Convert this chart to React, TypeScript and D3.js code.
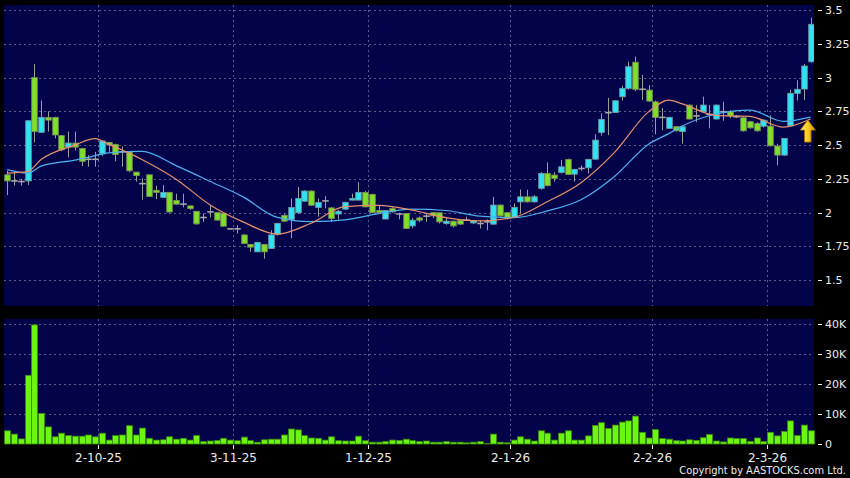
import { useEffect, useRef } from "react";
import * as d3 from "d3";

// ── Daily OHLC (120 sessions, Sep-2025 → Mar-2026) ─────────────────────────
const OPEN = [
  2.28, 2.235, 2.23, 2.235, 3.0, 2.595, 2.705, 2.705, 2.57, 2.485,
  2.515, 2.475, 2.395, 2.395, 2.435, 2.52, 2.505, 2.45, 2.45, 2.3,
  2.215, 2.28, 2.165, 2.113, 2.15, 2.09, 2.063, 2.05, 2.01, 1.964,
  2.006, 2.0, 1.995, 1.88, 1.88, 1.835, 1.765, 1.71, 1.765, 1.735,
  1.84, 1.98, 1.95, 2.0, 2.085, 2.16, 2.038, 2.087, 2.035, 1.99,
  2.026, 2.093, 2.093, 2.15, 2.135, 2.015, 1.953, 2.03, 1.99, 1.994,
  1.902, 1.961, 1.974, 2.0, 1.999, 1.92, 1.937, 1.944, 1.945, 1.924,
  1.92, 1.932, 1.915, 2.056, 2.0, 1.964, 2.08, 2.117, 2.08, 2.18,
  2.29, 2.278, 2.298, 2.394, 2.285, 2.327, 2.332, 2.396, 2.594, 2.74,
  2.742, 2.858, 2.92, 3.113, 2.913, 2.907, 2.82, 2.705, 2.624, 2.636,
  2.6, 2.796, 2.716, 2.747, 2.727, 2.693, 2.747, 2.747, 2.71, 2.702,
  2.673, 2.66, 2.64, 2.64, 2.493, 2.426, 2.643, 2.883, 2.915, 3.117,
];
const HIGH = [
  2.31, 2.3, 2.25, 2.685, 3.1, 2.83, 2.75, 2.71, 2.575, 2.6,
  2.6, 2.48, 2.425, 2.45, 2.535, 2.52, 2.51, 2.49, 2.455, 2.3,
  2.255, 2.28, 2.2, 2.205, 2.15, 2.14, 2.14, 2.05, 2.01, 1.994,
  2.056, 2.0, 1.995, 1.885, 1.907, 1.84, 1.765, 1.78, 1.765, 1.87,
  1.925, 1.99, 2.105, 2.19, 2.165, 2.165, 2.105, 2.122, 2.04, 2.02,
  2.08, 2.14, 2.225, 2.16, 2.14, 2.055, 2.02, 2.04, 2.0, 1.995,
  1.96, 1.97, 1.994, 2.0, 2.0, 1.96, 1.94, 1.95, 1.97, 1.945,
  1.946, 1.95, 2.117, 2.06, 2.0, 2.068, 2.172, 2.17, 2.13, 2.3,
  2.372, 2.3, 2.39, 2.4, 2.325, 2.35, 2.4, 2.58, 2.735, 2.85,
  2.83, 2.94, 3.117, 3.155, 3.02, 2.944, 2.83, 2.774, 2.71, 2.64,
  2.64, 2.8, 2.796, 2.858, 2.796, 2.8, 2.82, 2.76, 2.72, 2.71,
  2.68, 2.67, 2.69, 2.72, 2.51, 2.55, 2.91, 2.98, 3.1, 3.443,
];
const LOW = [
  2.13, 2.2, 2.2, 2.205, 2.52, 2.59, 2.6, 2.55, 2.455, 2.41,
  2.46, 2.345, 2.34, 2.34, 2.42, 2.45, 2.38, 2.34, 2.3, 2.23,
  2.095, 2.12, 2.1, 2.11, 2.0, 2.06, 2.04, 2.02, 1.91, 1.932,
  1.964, 1.94, 1.895, 1.875, 1.846, 1.77, 1.71, 1.71, 1.66, 1.735,
  1.83, 1.93, 1.81, 1.99, 2.08, 2.05, 1.97, 2.031, 1.93, 1.95,
  2.02, 2.09, 2.09, 2.04, 1.995, 1.995, 1.95, 2.0, 1.95, 1.88,
  1.885, 1.93, 1.932, 1.96, 1.92, 1.91, 1.89, 1.91, 1.94, 1.915,
  1.883, 1.87, 1.91, 1.97, 1.95, 1.96, 1.994, 2.075, 2.075, 2.17,
  2.195, 2.23, 2.29, 2.28, 2.23, 2.31, 2.29, 2.39, 2.57, 2.574,
  2.74, 2.83, 2.91, 2.9, 2.833, 2.82, 2.58, 2.61, 2.62, 2.6,
  2.51, 2.69, 2.67, 2.74, 2.624, 2.69, 2.68, 2.7, 2.7, 2.6,
  2.62, 2.6, 2.63, 2.49, 2.35, 2.42, 2.64, 2.83, 2.833, 3.11,
];
const CLOSE = [
  2.235, 2.235, 2.23, 2.68, 2.6, 2.705, 2.685, 2.575, 2.465, 2.515,
  2.485, 2.38, 2.395, 2.395, 2.53, 2.5, 2.43, 2.45, 2.31, 2.275,
  2.215, 2.12, 2.15, 2.15, 2.005, 2.063, 2.063, 2.03, 1.917, 1.964,
  2.006, 1.945, 1.9, 1.88, 1.88, 1.772, 1.745, 1.78, 1.71, 1.835,
  1.92, 1.937, 2.038, 2.105, 2.16, 2.055, 2.076, 2.087, 1.957, 2.01,
  2.076, 2.105, 2.15, 2.043, 2.0, 2.0, 2.015, 2.006, 1.99, 1.883,
  1.944, 1.944, 1.974, 1.976, 1.932, 1.937, 1.902, 1.915, 1.945, 1.94,
  1.92, 1.932, 2.056, 1.976, 1.961, 2.038, 2.117, 2.08, 2.117, 2.29,
  2.2, 2.253, 2.339, 2.283, 2.32, 2.327, 2.394, 2.537, 2.69, 2.74,
  2.828, 2.92, 3.08, 2.913, 2.913, 2.826, 2.705, 2.705, 2.705, 2.606,
  2.636, 2.693, 2.716, 2.796, 2.727, 2.796, 2.747, 2.715, 2.71, 2.606,
  2.628, 2.606, 2.685, 2.495, 2.426, 2.549, 2.883, 2.913, 3.085, 3.394,
];
// turnover, thousands
const VOLUME_K = [
  4.4, 3.3, 1.7, 22.9, 39.7, 10.2, 5.7, 2.4, 3.6, 2.8,
  2.6, 2.6, 3.0, 2.4, 3.6, 1.3, 2.8, 3.0, 6.1, 3.0,
  5.3, 1.9, 1.3, 1.4, 2.4, 1.6, 1.9, 1.3, 2.8, 0.8,
  1.0, 1.2, 1.9, 1.3, 1.1, 2.3, 1.1, 0.6, 1.4, 1.6,
  1.6, 3.0, 5.0, 4.7, 2.8, 2.0, 1.9, 1.3, 2.4, 1.1,
  1.0, 1.0, 2.6, 1.1, 0.6, 0.6, 0.8, 1.3, 1.2, 1.6,
  1.1, 0.8, 1.0, 0.6, 0.6, 0.8, 0.6, 0.6, 0.4, 0.6,
  0.8, 0.2, 3.3, 0.6, 0.4, 1.3, 2.4, 1.6, 1.0, 4.4,
  3.6, 1.3, 3.6, 4.4, 1.3, 1.3, 2.7, 6.2, 7.1, 5.2,
  6.3, 7.3, 7.7, 9.3, 3.9, 2.0, 4.8, 1.8, 1.6, 1.1,
  1.0, 1.4, 1.2, 2.1, 3.2, 1.0, 0.7, 2.0, 1.8, 1.8,
  0.9, 2.0, 0.8, 3.9, 2.7, 4.2, 7.7, 2.8, 6.3, 4.4,
];

const MA_IDX = [0, 3, 5, 10, 13, 15, 20, 25, 30, 35, 40, 45, 50, 55, 60, 65, 70, 75, 80, 85, 90, 95, 98, 100, 105, 110, 115, 119];
const MA_SHORT = [
  2.293, 2.304, 2.393, 2.5, 2.548, 2.507, 2.392, 2.248, 2.059, 1.93,
  1.841, 1.922, 2.044, 2.054, 2.019, 1.963, 1.939, 1.964, 2.081, 2.222,
  2.448, 2.746, 2.833, 2.805, 2.72, 2.713, 2.633, 2.693,
];
const MA_LONG = [
  2.319, 2.293, 2.344, 2.389, 2.422, 2.442, 2.453, 2.348, 2.233, 2.115,
  1.965, 1.934, 1.946, 1.993, 2.026, 2.016, 1.974, 1.963, 2.013, 2.096,
  2.27, 2.507, 2.585, 2.641, 2.73, 2.759, 2.676, 2.707,
];

const PRICE_TICKS = [1.5, 1.75, 2, 2.25, 2.5, 2.75, 3, 3.25, 3.5];
const VOL_TICKS = [0, 10, 20, 30, 40];
const DATE_TICKS = [13.5, 33.5, 53.5, 74.5, 95.5, 112.5];
const DATE_LABELS = ["2-10-25", "3-11-25", "1-12-25", "2-1-26", "2-2-26", "2-3-26"];

// buy-signal marker (session index, price of arrow tip)
const SIGNAL = { idx: 118.6, price: 2.685 };

const W = 850;
const H = 478;
const PLOT_L = 4;
const PLOT_R = 814;
const PRICE_T = 5;
const PRICE_B = 306;
const VOL_T = 319;
const VOL_B = 444;

const BG_PLOT = "#03034a";
const GRID = "#5c5c8c";
const UP = "#2ee4f2";
const DOWN = "#7fe02a";
const WICK = "#9c9c9c";
const TEXT = "#ececec";
const FONT = "'DejaVu Sans', Verdana, sans-serif";

export default function App() {
  const svgRef = useRef<SVGSVGElement>(null);

  useEffect(() => {
    if (!svgRef.current) return;
    const svg = d3.select(svgRef.current);
    svg.selectAll("*").remove();

    const n = CLOSE.length;
    const x = d3.scaleLinear().domain([0, n - 1]).range([7.3, 810.5]);
    const y = d3.scaleLinear().domain([1.5, 3.5]).range([280.2, 10]);
    const yv = d3.scaleLinear().domain([0, 40]).range([VOL_B, 324]);

    const defs = svg.append("defs");
    defs.append("clipPath").attr("id", "clip-price")
      .append("rect")
      .attr("x", PLOT_L).attr("y", PRICE_T)
      .attr("width", PLOT_R - PLOT_L).attr("height", PRICE_B - PRICE_T);
    const grad = defs.append("linearGradient").attr("id", "arrow-grad")
      .attr("x1", 0).attr("x2", 1).attr("y1", 0).attr("y2", 0);
    grad.append("stop").attr("offset", "0%").attr("stop-color", "#fff2a0");
    grad.append("stop").attr("offset", "45%").attr("stop-color", "#ffd020");
    grad.append("stop").attr("offset", "100%").attr("stop-color", "#d89400");

    // ── Backgrounds ──────────────────────────────────────────────────────
    svg.append("rect").attr("width", W).attr("height", H).attr("fill", "#000");
    svg.append("rect")
      .attr("x", PLOT_L).attr("y", PRICE_T)
      .attr("width", PLOT_R - PLOT_L).attr("height", PRICE_B - PRICE_T)
      .attr("fill", BG_PLOT);
    svg.append("rect")
      .attr("x", PLOT_L).attr("y", VOL_T)
      .attr("width", PLOT_R - PLOT_L).attr("height", VOL_B - VOL_T)
      .attr("fill", BG_PLOT);

    // ── Grid ─────────────────────────────────────────────────────────────
    const grid = svg.append("g")
      .attr("stroke", GRID).attr("stroke-width", 1)
      .attr("stroke-dasharray", "2,3").attr("shape-rendering", "crispEdges");
    PRICE_TICKS.forEach((p) => {
      grid.append("line")
        .attr("x1", PLOT_L).attr("x2", PLOT_R)
        .attr("y1", Math.round(y(p)) + 0.5).attr("y2", Math.round(y(p)) + 0.5);
    });
    VOL_TICKS.filter((v) => v > 0).forEach((v) => {
      grid.append("line")
        .attr("x1", PLOT_L).attr("x2", PLOT_R)
        .attr("y1", Math.round(yv(v)) + 0.5).attr("y2", Math.round(yv(v)) + 0.5);
    });
    DATE_TICKS.forEach((d) => {
      const gx = Math.round(x(d)) + 0.5;
      grid.append("line").attr("x1", gx).attr("x2", gx).attr("y1", PRICE_T).attr("y2", PRICE_B);
      grid.append("line").attr("x1", gx).attr("x2", gx).attr("y1", VOL_T).attr("y2", VOL_B);
    });

    // ── Candles ──────────────────────────────────────────────────────────
    const candles = svg.append("g").attr("clip-path", "url(#clip-price)");
    const bodyW = 5.5;
    d3.range(n).forEach((i) => {
      const cx = Math.round(x(i)) + 0.5;
      const o = OPEN[i], c = CLOSE[i];
      candles.append("line")
        .attr("x1", cx).attr("x2", cx)
        .attr("y1", y(HIGH[i])).attr("y2", y(LOW[i]))
        .attr("stroke", WICK).attr("stroke-width", 1);
      if (Math.abs(c - o) < 0.006) {
        candles.append("line")
          .attr("x1", cx - bodyW / 2 - 0.5).attr("x2", cx + bodyW / 2 + 0.5)
          .attr("y1", y(c)).attr("y2", y(c))
          .attr("stroke", "#a8a8a8").attr("stroke-width", 1.6);
        return;
      }
      const top = y(Math.max(o, c));
      const bot = y(Math.min(o, c));
      candles.append("rect")
        .attr("x", cx - bodyW / 2).attr("y", top)
        .attr("width", bodyW).attr("height", Math.max(bot - top, 1.5))
        .attr("fill", c > o ? UP : DOWN)
        .attr("stroke", c > o ? "#6f9ea6" : "#7c8f56")
        .attr("stroke-width", 0.9);
    });

    // ── Moving averages ──────────────────────────────────────────────────
    const maLine = (vals: number[]) =>
      d3.line<number>()
        .x((_, k) => x(MA_IDX[k]))
        .y((v) => y(v))
        .curve(d3.curveMonotoneX)(vals);
    candles.append("path").attr("d", maLine(MA_LONG))
      .attr("fill", "none").attr("stroke", "#4fb0ee").attr("stroke-width", 1.2);
    candles.append("path").attr("d", maLine(MA_SHORT))
      .attr("fill", "none").attr("stroke", "#e8906a").attr("stroke-width", 1.2);

    // ── Signal arrow ─────────────────────────────────────────────────────
    const ax = x(SIGNAL.idx);
    const ay = y(SIGNAL.price);
    const arrow = d3.path();
    arrow.moveTo(ax, ay);
    arrow.lineTo(ax + 7.5, ay + 10);
    arrow.lineTo(ax + 3.2, ay + 10);
    arrow.lineTo(ax + 3.2, ay + 22);
    arrow.lineTo(ax - 3.2, ay + 22);
    arrow.lineTo(ax - 3.2, ay + 10);
    arrow.lineTo(ax - 7.5, ay + 10);
    arrow.closePath();
    svg.append("path").attr("d", arrow.toString())
      .attr("fill", "url(#arrow-grad)")
      .attr("stroke", "#b07a00").attr("stroke-width", 0.8)
      .attr("stroke-linejoin", "round");

    // ── Volume bars ──────────────────────────────────────────────────────
    const vol = svg.append("g");
    VOLUME_K.forEach((v, i) => {
      const cx = Math.round(x(i)) + 0.5;
      vol.append("rect")
        .attr("x", cx - 2.9).attr("y", yv(v))
        .attr("width", 5.8).attr("height", Math.max(VOL_B - yv(v), 0.5))
        .attr("fill", "#6cf510")
        .attr("stroke", "#3c8c0c").attr("stroke-width", 0.8);
    });

    // ── Right axes ───────────────────────────────────────────────────────
    const axis = svg.append("g").attr("font-family", FONT).attr("font-size", 11).attr("fill", TEXT);
    PRICE_TICKS.forEach((p) => {
      const ty = Math.round(y(p)) + 0.5;
      axis.append("line").attr("x1", 818).attr("x2", 822).attr("y1", ty).attr("y2", ty)
        .attr("stroke", TEXT).attr("stroke-width", 1);
      axis.append("text").attr("x", 825).attr("y", ty)
        .attr("dominant-baseline", "central").text(String(p));
    });
    VOL_TICKS.forEach((v) => {
      const ty = Math.round(yv(v)) + 0.5;
      axis.append("line").attr("x1", 818).attr("x2", 822).attr("y1", ty).attr("y2", ty)
        .attr("stroke", TEXT).attr("stroke-width", 1);
      axis.append("text").attr("x", 825).attr("y", ty)
        .attr("dominant-baseline", "central").text(v === 0 ? "0" : `${v}K`);
    });

    // ── Date axis ────────────────────────────────────────────────────────
    DATE_TICKS.forEach((d, k) => {
      const tx = Math.round(x(d)) + 0.5;
      axis.append("line").attr("x1", tx).attr("x2", tx).attr("y1", VOL_B + 1).attr("y2", VOL_B + 5)
        .attr("stroke", TEXT).attr("stroke-width", 1);
      axis.append("text").attr("x", tx).attr("y", 462)
        .attr("text-anchor", "middle").attr("font-size", 12)
        .text(DATE_LABELS[k]);
    });

    axis.append("text").attr("x", 846).attr("y", 474)
      .attr("text-anchor", "end").attr("font-size", 11)
      .attr("font-stretch", "condensed")
      .text("Copyright by AASTOCKS.com Ltd.");
  }, []);

  return (
    <div style={{ position: "fixed", left: 0, top: 0, width: W, height: H, background: "#000" }}>
      <svg ref={svgRef} width={W} height={H} style={{ display: "block" }} />
    </div>
  );
}
